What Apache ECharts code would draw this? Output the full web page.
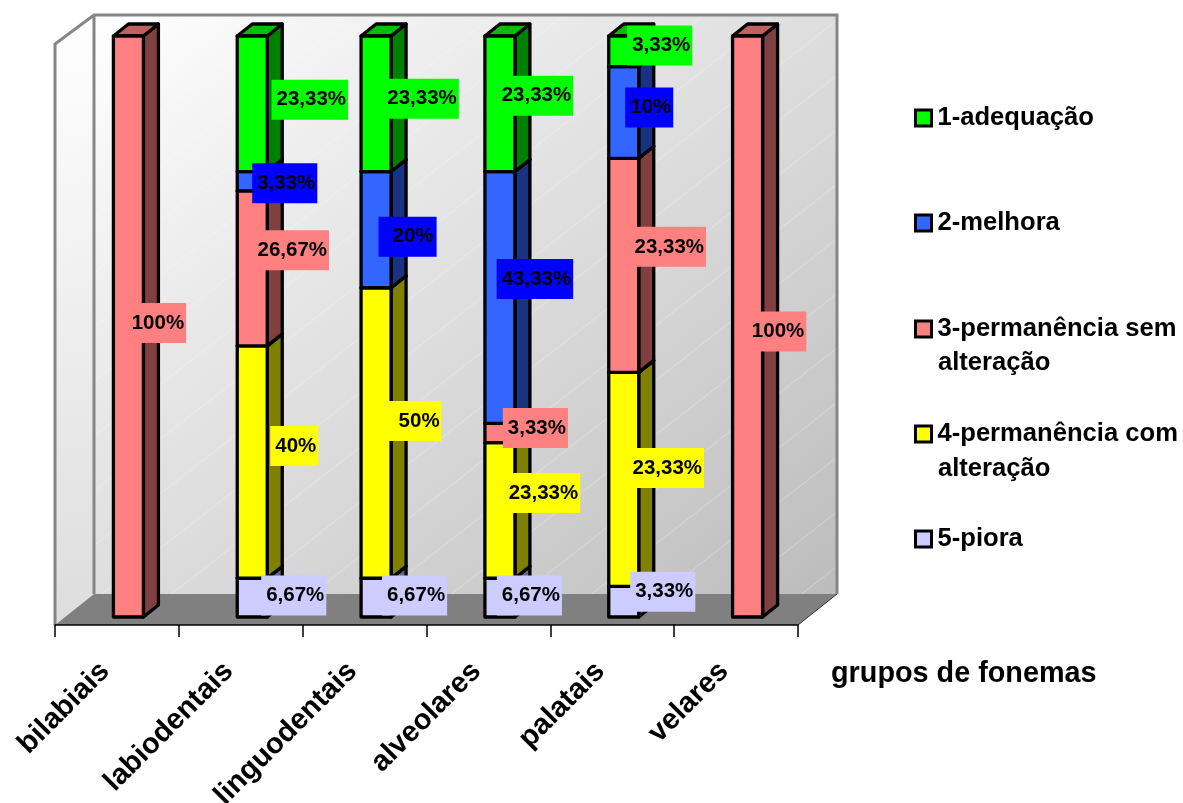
<!DOCTYPE html>
<html>
<head>
<meta charset="utf-8">
<style>html,body{margin:0;padding:0;background:#fff}#c{width:1183px;height:803px}</style>
<script src="https://cdn.jsdelivr.net/npm/echarts@6/dist/echarts.min.js"></script>
</head>
<body>
<div id="c"></div>
<script>
// Phoneme groups and the share of each outcome, in percent
const categories = ['bilabiais', 'labiodentais', 'linguodentais', 'alveolares', 'palatais', 'velares'];
const piora     = [0, 6.67, 6.67, 6.67, 3.33, 0];
const comAlter  = [0, 40, 50, 23.33, 23.33, 0];
const semAlter  = [100, 26.67, 0, 3.33, 23.33, 100];
const melhora   = [0, 3.33, 20, 43.33, 10, 0];
const adequacao = [0, 23.33, 23.33, 23.33, 3.33, 0];

// Hand-placed data labels: pixel offset of the box centre from the middle of each segment's
// front face, with an optional wider left / narrower right padding as a third and fourth entry
const offPiora = [null, [41.5, -2], [38.5, -2], [29.5, -2], [39, -10], null];
const offCom   = [null, [42, -16], [38.9, -12, 10, 1.7], [42, -17.5], [42, -11.4], null];
const offSem   = [[28, -3.5], [38.5, -18], null, [35.5, -5], [44, -18.5], [29, 5]];
const offMel   = [null, [32.5, 2], [31.5, 7, 14, 3], [35, -18.5], [25.5, -5], null];
const offAde   = [null, [57.5, -4], [44.5, -5], [35, -8], [36, -5.7], null];

// Stacked bottom to top; colours are front / top / side faces and the label fill
const layers = [
  { name: '5-piora', values: piora, offsets: offPiora, front: '#ccccff', top: '#a3a3cc', side: '#666680', box: '#ccccff' },
  { name: '4-permanência com\nalteração', values: comAlter, offsets: offCom, front: '#ffff00', top: '#c0c000', side: '#808000', box: '#ffff00' },
  { name: '3-permanência sem\nalteração', values: semAlter, offsets: offSem, front: '#ff8080', top: '#c06060', side: '#804040', box: '#ff8080' },
  { name: '2-melhora', values: melhora, offsets: offMel, front: '#3366ff', top: '#264dc0', side: '#1a3380', box: '#0000ff' },
  { name: '1-adequação', values: adequacao, offsets: offAde, front: '#00ff00', top: '#00c000', side: '#008000', box: '#00ff00' }
];

// Each column is normalised to its own total (100% stacked)
const totals = categories.map((_, i) => layers.reduce((s, l) => s + l.values[i], 0));
function range(layerIdx, i) {
  let below = 0;
  for (let k = 0; k < layerIdx; k++) below += layers[k].values[i];
  return [below / totals[i] * 100, (below + layers[layerIdx].values[i]) / totals[i] * 100];
}

const FONT = '"Liberation Sans", Arial, sans-serif';
const BAR_W = 30, BAR_SHIFT = 11.5, DEPTH_X = 15, DEPTH_Y = 12;
const LINE = { stroke: '#000', lineWidth: 3.3, lineJoin: 'round' };

function frontBox(api, layerIdx, i) {
  const r = range(layerIdx, i);
  const c = api.coord([i, r[0]]), t = api.coord([i, r[1]]);
  const x1 = c[0] + BAR_SHIFT - BAR_W / 2;
  return { x1, x2: x1 + BAR_W, yb: c[1], yt: t[1] };
}

function poly(points, fill) {
  return { type: 'polygon', shape: { points }, style: Object.assign({ fill }, LINE) };
}

function barSeries(layerIdx) {
  const l = layers[layerIdx];
  return {
    type: 'custom', name: l.name, coordinateSystem: 'cartesian2d', z: 3 + layerIdx,
    itemStyle: { color: l.front }, silent: true, clip: false,
    data: categories.map((_, i) => [i, l.values[i]]),
    encode: { x: 0, y: 1 },
    renderItem(params, api) {
      const i = api.value(0);
      if (!api.value(1)) return null;
      const b = frontBox(api, layerIdx, i);
      return {
        type: 'group',
        children: [
          poly([[b.x2, b.yb], [b.x2 + DEPTH_X, b.yb - DEPTH_Y], [b.x2 + DEPTH_X, b.yt - DEPTH_Y], [b.x2, b.yt]], l.side),
          poly([[b.x1, b.yt], [b.x2, b.yt], [b.x2 + DEPTH_X, b.yt - DEPTH_Y], [b.x1 + DEPTH_X, b.yt - DEPTH_Y]], l.top),
          poly([[b.x1, b.yb], [b.x2, b.yb], [b.x2, b.yt], [b.x1, b.yt]], l.front)
        ]
      };
    }
  };
}

function labelSeries(layerIdx) {
  const l = layers[layerIdx];
  return {
    type: 'custom', coordinateSystem: 'cartesian2d', z: 20 + layerIdx, silent: true, clip: false,
    data: categories.map((_, i) => [i, l.values[i]]),
    encode: { x: 0, y: 1 },
    renderItem(params, api) {
      const i = api.value(0), v = api.value(1);
      if (!v) return null;
      const b = frontBox(api, layerIdx, i);
      const off = l.offsets[i];
      return {
        type: 'text',
        style: {
          x: (b.x1 + b.x2) / 2 + off[0], y: (b.yb + b.yt) / 2 + off[1],
          text: String(v).replace('.', ',') + '%',
          font: 'bold 20.5px ' + FONT, fill: '#000', align: 'center', verticalAlign: 'middle',
          backgroundColor: l.box,
          padding: [8, off[3] === undefined ? 2 : off[3], 11, off[2] === undefined ? 5 : off[2]]
        }
      };
    }
  };
}

// Box walls and floor behind the columns, placed relative to the plot rectangle
const wallSeries = {
  type: 'custom', coordinateSystem: 'cartesian2d', z: 1, silent: true, clip: false,
  data: [[0, 0]], encode: { x: 0, y: 1 },
  renderItem(params) {
    const g = params.coordSys;
    const L = g.x, R = g.x + g.width, F = g.y + g.height + 8;
    const WX = 39, WY = 31, T = g.y - 21;
    const edge = { stroke: '#868686', lineWidth: 3, fill: null, lineJoin: 'miter' };
    const x0 = L + WX, w = g.width, h = F - WY - T;
    const d2 = w * w + h * h;
    // Shading runs corner to corner, with bands parallel to the opposite diagonal
    const backFill = {
      type: 'linear', global: true, x: x0, y: T,
      x2: x0 + 2 * w * h * h / d2, y2: T + 2 * w * w * h / d2,
      colorStops: [{ offset: 0, color: '#ffffff' }, { offset: 1, color: '#bcbcbc' }]
    };
    const bands = [];
    for (let c = 50; c < w + h / 0.78; c += 70) {
      // each band starts on the left or bottom edge and ends on the top or right edge
      const startX = Math.max(0, c - h / 0.78), endX = Math.min(w, c);
      bands.push({
        type: 'line',
        shape: { x1: x0 + startX, y1: T + (c - startX) * 0.78, x2: x0 + endX, y2: T + (c - endX) * 0.78 },
        style: { stroke: 'rgba(255,255,255,0.28)', lineWidth: 1 }
      });
    }
    return {
      type: 'group',
      children: [
        { type: 'polygon', shape: { points: [[x0, T], [R + WX, T], [R + WX, F - WY], [x0, F - WY]] }, style: { fill: backFill } }
      ].concat(bands, [
        { type: 'polygon', shape: { points: [[L, T + 29], [x0, T], [x0, F - WY], [L, F]] },
          style: { fill: { type: 'linear', x: 0, y: 0, x2: 1, y2: 1, colorStops: [{ offset: 0, color: '#ffffff' }, { offset: 1, color: '#dddddd' }] } } },
        { type: 'polygon', shape: { points: [[L, F], [x0, F - WY], [R + WX, F - WY], [R, F]] }, style: { fill: '#808080' } },
        { type: 'polyline', shape: { points: [[L, F], [L, T + 29], [x0, T], [R + WX, T], [R + WX, F - WY]] }, style: edge },
        { type: 'polyline', shape: { points: [[x0, T], [x0, F - WY]] }, style: edge },
        { type: 'polyline', shape: { points: [[R, F], [R + WX, F - WY]] }, style: { stroke: '#333', lineWidth: 1, fill: null } }
      ])
    };
  }
};

// One legend block per entry so each row can sit at its own height
const legendTops = { '1-adequação': 105, '2-melhora': 210, '3-permanência sem\nalteração': 316, '4-permanência com\nalteração': 421, '5-piora': 526 };
const legends = layers.slice().reverse().map(l => ({
  left: 914, top: legendTops[l.name], orient: 'vertical', selectedMode: false, padding: 0,
  itemWidth: 16, itemHeight: 16, itemGap: 0, icon: 'rect',
  formatter: n => n.split('\n')[0],
  textStyle: { fontFamily: FONT, fontWeight: 'bold', fontSize: 25.6, color: '#000', padding: [0, 0, 0, 1] },
  data: [{ name: l.name, itemStyle: { color: l.front, borderColor: '#000', borderWidth: 3 } }]
}));

const secondLines = [['alteração', 364], ['alteração', 470]].map(([text, y]) => ({
  type: 'text', left: 938, top: y - 14,
  style: { text, font: 'bold 25.6px ' + FONT, fill: '#000' }
}));

const chart = echarts.init(document.getElementById('c'), null, { renderer: 'canvas' });
chart.setOption({
  animation: false,
  backgroundColor: '#fff',
  legend: legends,
  graphic: secondLines,
  grid: { left: 55, width: 743, top: 36, height: 581, containLabel: false, outerBoundsMode: 'none' },
  xAxis: {
    type: 'category', data: categories, offset: 8,
    axisLine: { show: true, onZero: false, lineStyle: { color: '#000', width: 1.5 } },
    axisTick: { show: true, length: 12, alignWithLabel: false, lineStyle: { color: '#000', width: 1.5 } },
    axisLabel: { interval: 0, rotate: 45, margin: 30, padding: [0, 17, 0, 0], color: '#000', fontFamily: FONT, fontWeight: 'bold', fontSize: 29 },
    name: 'grupos de fonemas', nameLocation: 'end', nameGap: 33, nameMoveOverlap: false,
    nameTextStyle: { color: '#000', fontFamily: FONT, fontWeight: 'bold', fontSize: 28.8, align: 'left', verticalAlign: 'top', lineHeight: 29, padding: [35, 0, 0, 0] },
    z: 2
  },
  yAxis: { type: 'value', min: 0, max: 100, show: false },
  series: [wallSeries].concat(layers.map((_, k) => barSeries(k)), layers.map((_, k) => labelSeries(k)))
});
</script>
</body>
</html>
